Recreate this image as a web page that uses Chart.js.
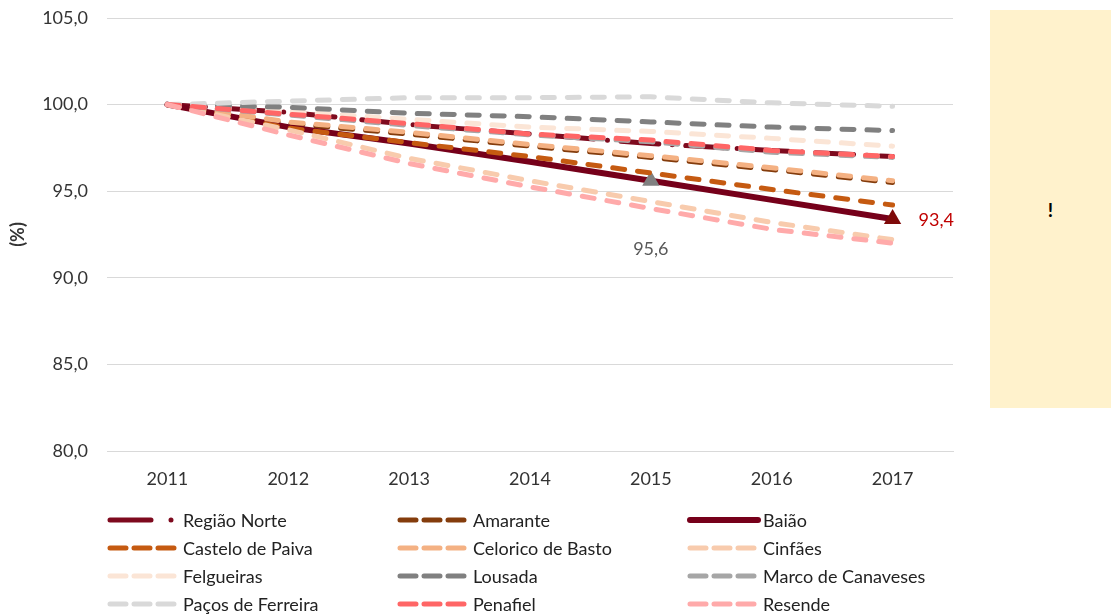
<!DOCTYPE html>
<html>
<head>
<meta charset="utf-8">
<script src="https://cdn.jsdelivr.net/npm/chart.js@4/dist/chart.umd.min.js"></script>
<style>
  html, body { margin: 0; padding: 0; background: #fff; }
  #wrap { position: relative; width: 1111px; height: 616px; }
  #note {
    position: absolute; left: 990px; top: 10px; width: 121px; height: 398px;
    background: #FFF2CC; font: bold 19px Lato, sans-serif; color: #000;
    display: flex; align-items: center; justify-content: center;
  }
</style>
</head>
<body>
<div id="wrap">
  <canvas id="evolChart" width="1111" height="616"></canvas>
  <div id="note">!</div>
</div>
<script>
// x-axis labels
var years = ['2011', '2012', '2013', '2014', '2015', '2016', '2017'];
// y-axis ticks
var yMin = 80, yMax = 105, yStep = 5;

// index values (2011 = 100)
var regiaoNorte      = [100, 99.55, 98.85, 98.30, 97.75, 97.35, 97.00];
var amarante         = [100, 98.90, 98.30, 97.60, 96.95, 96.25, 95.50];
var baiao            = [100, 98.70, 97.75, 96.70, 95.60, 94.50, 93.40];
var casteloDePaiva   = [100, 98.65, 97.80, 97.00, 96.05, 95.10, 94.20];
var celoricoDeBasto  = [100, 99.00, 98.40, 97.70, 97.05, 96.35, 95.60];
var cinfaes          = [100, 98.55, 96.90, 95.60, 94.40, 93.20, 92.20];
var felgueiras       = [100, 99.60, 99.15, 98.70, 98.45, 98.05, 97.60];
var lousada          = [100, 99.85, 99.50, 99.30, 99.00, 98.70, 98.50];
var marcoDeCanaveses = [100, 99.40, 98.80, 98.25, 97.85, 97.25, 96.95];
var pacosDeFerreira  = [100, 100.20, 100.40, 100.40, 100.45, 100.10, 99.90];
var penafiel         = [100, 99.45, 98.90, 98.30, 97.95, 97.35, 97.00];
var resende          = [100, 98.25, 96.60, 95.25, 94.00, 92.80, 92.00];

var dash = [12, 13];
function fmt(v) { return v.toFixed(1).replace('.', ','); }

function series(label, data, color, extra) {
  var ds = {
    label: label,
    data: data,
    borderColor: color,
    backgroundColor: color,
    borderWidth: 5,
    borderDash: dash,
    borderCapStyle: 'round',
    pointRadius: 0,
    pointHoverRadius: 0,
    tension: 0,
    fill: false
  };
  for (var k in extra) ds[k] = extra[k];
  return ds;
}

var datasets = [
  series('Região Norte', regiaoNorte, '#7E0A1E', { borderDash: [38, 13.5, 0, 13.5], legendDash: [41, 20, 0, 40] }),
  series('Amarante', amarante, '#843C0C'),
  series('Baião', baiao, '#76001A', {
    borderDash: [], borderWidth: 6,
    pointStyle: 'triangle',
    pointRadius: [0, 0, 0, 0, 10, 0, 10],
    pointBackgroundColor: ['#76001A', '#76001A', '#76001A', '#76001A', '#808080', '#76001A', '#7F0A0A'],
    pointBorderColor: ['#76001A', '#76001A', '#76001A', '#76001A', '#808080', '#76001A', '#7F0A0A'],
    pointBorderWidth: 0
  }),
  series('Castelo de Paiva', casteloDePaiva, '#C55A11'),
  series('Celorico de Basto', celoricoDeBasto, '#F4B183'),
  series('Cinfães', cinfaes, '#F8CBAD'),
  series('Felgueiras', felgueiras, '#FBE5D6'),
  series('Lousada', lousada, '#808080'),
  series('Marco de Canaveses', marcoDeCanaveses, '#A6A6A6'),
  series('Paços de Ferreira', pacosDeFerreira, '#D9D9D9'),
  series('Penafiel', penafiel, '#FF6666'),
  series('Resende', resende, '#FFAAAA')
];
// Excel draws the last series on top
datasets.forEach(function (ds, i) { ds.order = datasets.length - i; });

// value labels on Baião markers
var pointLabels = {
  id: 'pointLabels',
  afterDatasetsDraw: function (chart) {
    var meta = chart.getDatasetMeta(2);
    var ctx = chart.ctx;
    ctx.save();
    ctx.font = '18px Lato, sans-serif';
    ctx.textBaseline = 'middle';
    var p4 = meta.data[4];
    ctx.fillStyle = '#595959';
    ctx.textAlign = 'center';
    ctx.fillText(fmt(baiao[4]), p4.x, p4.y + 68);
    var p6 = meta.data[6];
    ctx.fillStyle = '#C00000';
    ctx.textAlign = 'left';
    ctx.fillText(fmt(baiao[6]), p6.x + 26, p6.y + 1);
    ctx.restore();
  }
};

// three-column legend under the plot
var gridLegend = {
  id: 'gridLegend',
  afterDraw: function (chart) {
    var ctx = chart.ctx;
    var colX = [107, 397, 687];
    var rowY = [520, 548, 576, 604];
    ctx.save();
    ctx.font = '18px Lato, sans-serif';
    ctx.textBaseline = 'middle';
    ctx.textAlign = 'left';
    chart.data.datasets.forEach(function (ds, i) {
      var x = colX[i % 3], y = rowY[Math.floor(i / 3)];
      var len = ds.legendDash ? 66 : (ds.borderDash.length ? 64 : 68);
      ctx.strokeStyle = ds.borderColor;
      ctx.lineWidth = ds.borderWidth;
      ctx.lineCap = 'round';
      ctx.setLineDash(ds.legendDash || (ds.borderDash.length ? [16, 8] : []));
      ctx.beginPath();
      ctx.moveTo(x + 3, y);
      ctx.lineTo(x + 3 + len, y);
      ctx.stroke();
      ctx.setLineDash([]);
      ctx.fillStyle = '#222';
      ctx.fillText(ds.label, x + 76, y + 1);
    });
    ctx.restore();
  }
};

var ctx = document.getElementById('evolChart');
var evolChart = new Chart(ctx, {
  type: 'line',
  data: { labels: years, datasets: datasets },
  options: {
    responsive: false,
    animation: false,
    events: [],
    layout: { padding: { top: 18, right: 158, bottom: 0, left: 0 } },
    plugins: {
      legend: { display: false },
      tooltip: { enabled: false }
    },
    scales: {
      x: {
        offset: true,
        grid: { display: false, drawTicks: false },
        border: { color: '#D9D9D9', width: 1 },
        ticks: { padding: 17, color: '#333', font: { family: 'Lato', size: 18 } },
        afterFit: function (s) { s.height = 165; }
      },
      y: {
        min: yMin,
        max: yMax,
        grid: { color: '#D9D9D9', lineWidth: 1, drawTicks: false },
        border: { display: false },
        ticks: {
          stepSize: yStep,
          padding: 19,
          color: '#333',
          font: { family: 'Lato', size: 18 },
          callback: function (v) { return fmt(v); }
        },
        title: {
          display: true,
          text: '(%)',
          color: '#333',
          font: { family: 'Lato', size: 18, weight: 'bold' },
          padding: { top: 7, bottom: 0 }
        },
        afterFit: function (s) { s.width = 107; s.paddingTop = 0; s.paddingBottom = 0; }
      }
    }
  },
  plugins: [pointLabels, gridLegend]
});
</script>
</body>
</html>
